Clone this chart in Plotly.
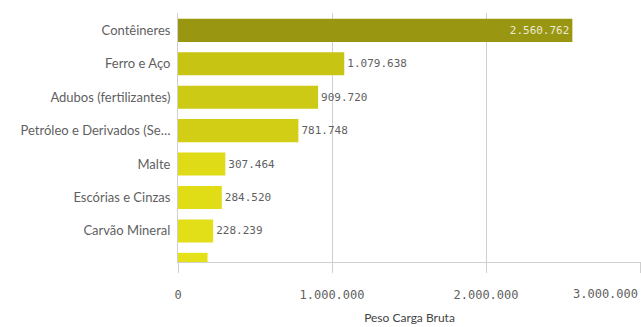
import plotly.graph_objects as go

# Carga movimentada por mercadoria (peso bruto, t)
categorias = [
    "Contêineres",
    "Ferro e Aço",
    "Adubos (fertilizantes)",
    "Petróleo e Derivados (Se…",
    "Malte",
    "Escórias e Cinzas",
    "Carvão Mineral",
    "Outras cargas",
]
peso_bruto = [2560762, 1079638, 909720, 781748, 307464, 284520, 228239, 192000]
rotulos = ["2.560.762", "1.079.638", "909.720", "781.748", "307.464", "284.520", "228.239", ""]
cores = ["#999612", "#c8c414", "#cdca15", "#d2ce15", "#dfdc17", "#e0dd17", "#e2de18", "#e4e119"]
posicao_texto = ["inside"] + ["outside"] * 7

x_ticks = [0, 1000000, 2000000, 3000000]
x_ticktext = ["0", "1.000.000", "2.000.000", ""]

cinza_texto = "#5f5f5f"
cinza_linha = "#cfcfcf"

fig = go.Figure(
    go.Bar(
        x=peso_bruto,
        y=categorias,
        orientation="h",
        marker=dict(color=cores, line=dict(width=0)),
        text=rotulos,
        textposition=posicao_texto,
        insidetextanchor="end",
        insidetextfont=dict(family="DejaVu Sans Mono", size=11, color="#ecebd6"),
        outsidetextfont=dict(family="DejaVu Sans Mono", size=11, color=cinza_texto),
        cliponaxis=True,
        hoverinfo="skip",
    )
)

fig.update_layout(
    width=641,
    height=327,
    margin=dict(l=178, r=0, t=13, b=65),
    paper_bgcolor="white",
    plot_bgcolor="white",
    bargap=0.31,
    showlegend=False,
    xaxis=dict(
        range=[0, 3006500],
        tickvals=x_ticks,
        ticktext=x_ticktext,
        ticks="outside",
        ticklen=10,
        tickcolor=cinza_linha,
        tickwidth=1,
        ticklabelstandoff=12,
        tickfont=dict(family="DejaVu Sans Mono", size=12, color=cinza_texto),
        showgrid=True,
        gridcolor=cinza_linha,
        gridwidth=1,
        zeroline=False,
        showline=True,
        linecolor=cinza_linha,
        linewidth=1,
        title=dict(
            text="Peso Carga Bruta",
            font=dict(family="Lato", size=12, color="#444444"),
            standoff=12,
        ),
    ),
    yaxis=dict(
        range=[6.93, -0.52],
        showgrid=False,
        zeroline=False,
        showline=True,
        linecolor=cinza_linha,
        linewidth=1,
        ticks="",
        ticklabelstandoff=4,
        tickfont=dict(family="Lato", size=13, color=cinza_texto),
    ),
)

# Rótulo do último tick, alinhado à direita para caber na área do gráfico
fig.add_annotation(
    x=x_ticks[-1],
    xref="x",
    y=0,
    yref="paper",
    yshift=-32,
    yanchor="middle",
    xanchor="right",
    text="3.000.000",
    showarrow=False,
    font=dict(family="DejaVu Sans Mono", size=12, color=cinza_texto),
)

fig.write_html("out.html")
